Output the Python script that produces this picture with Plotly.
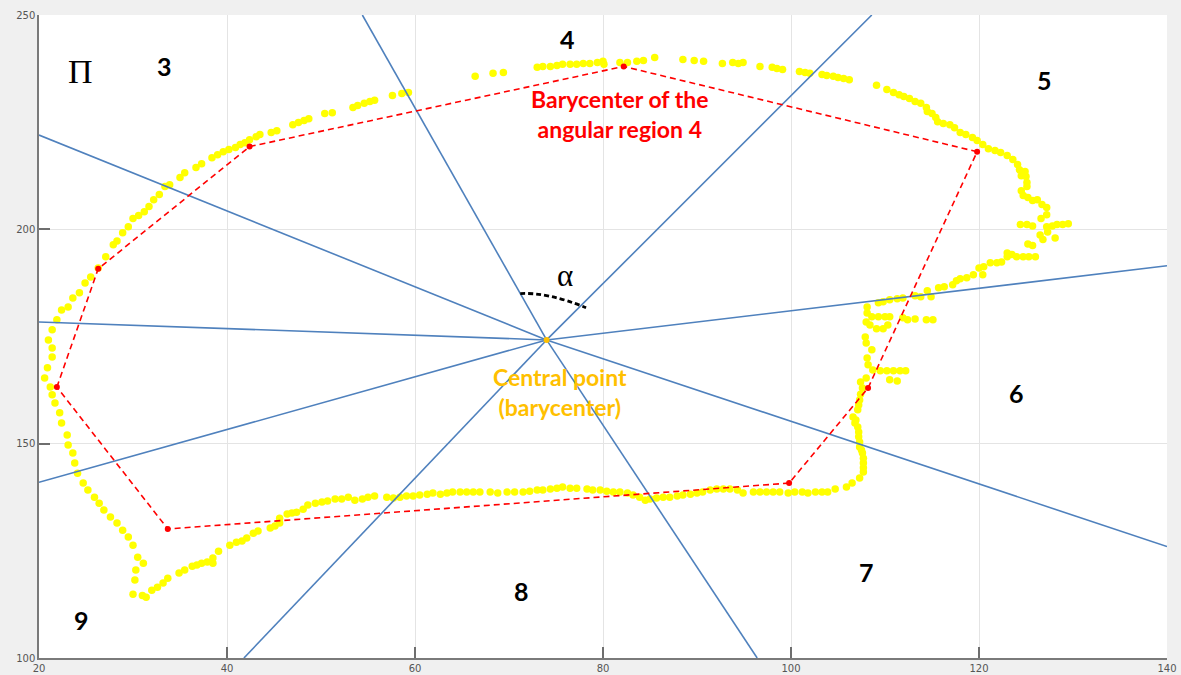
import plotly.graph_objects as go

# ---------------- data ----------------
# yellow trajectory, split into segments
left_x = [31.4, 31.0, 30.0, 30.2, 30.3, 31.1, 30.5, 30.0, 29.5, 28.9, 28.3, 27.6, 26.9, 26.4, 25.9,
          25.2, 24.7, 24.1, 23.8, 23.6, 23.1, 23.0, 22.4, 22.2, 21.7, 21.4, 21.2, 20.6, 20.9, 21.4,
          21.4, 21.0, 21.4, 21.9, 22.4]
left_y = [114.2, 114.6, 114.9, 118.2, 120.5, 122.1, 123.5, 126.3, 128.2, 129.8, 131.5, 132.9, 134.5, 136.1, 137.5,
          139.2, 140.8, 143.1, 145.5, 147.8, 149.7, 152.0, 154.8, 157.2, 159.5, 161.4, 163.2, 165.3, 167.7, 170.2,
          172.3, 174.2, 176.6, 178.9, 181.2]

upleft_x = [23.1, 23.6, 24.3, 24.9, 25.5, 26.3, 27.1, 27.9, 28.3, 28.9, 29.5, 30.0, 30.6, 31.2, 31.7,
            32.2, 32.8, 33.4, 33.9, 35.0, 35.5, 36.7, 37.3, 38.4, 39.0, 39.6, 40.2, 40.9, 41.4, 41.9,
            42.4, 43.1, 43.5, 44.7, 45.3, 47.0, 47.6, 48.2, 48.7, 50.4, 51.2, 53.4, 53.9, 54.6, 55.2,
            55.7, 57.6, 58.6, 59.3]
upleft_y = [181.9, 184.0, 185.2, 187.5, 188.9, 191.0, 193.6, 196.4, 197.3, 199.2, 200.6, 202.5, 203.2, 204.1, 205.3,
            206.9, 208.1, 210.0, 210.4, 212.1, 213.2, 214.4, 215.3, 216.7, 217.4, 218.1, 218.6, 219.1, 219.8, 220.2,
            220.9, 221.6, 222.1, 222.6, 223.0, 224.4, 224.9, 225.4, 225.8, 227.0, 227.2, 228.4, 228.9, 229.4, 229.8,
            230.1, 231.2, 231.7, 231.9]

top_x = [66.4, 68.3, 69.4, 73.0, 73.6, 74.4, 75.1, 75.7, 76.5, 77.2, 77.9, 78.6, 79.4, 80.0, 80.1,
         81.8, 82.6, 83.6, 84.3, 85.5, 88.5, 89.7, 90.7, 92.7, 93.8, 94.4, 94.9, 96.7, 98.0, 98.5,
         99.1, 100.9, 101.5, 102.0, 103.3, 103.8, 104.5, 105.0, 105.6, 106.2]
top_y = [235.7, 236.4, 236.6, 237.8, 238.0, 238.0, 238.2, 238.5, 238.5, 238.5, 238.7, 238.7, 238.9, 239.2, 238.5,
         238.9, 238.9, 239.2, 239.4, 240.1, 239.6, 239.4, 239.2, 238.7, 238.9, 238.7, 238.9, 238.0, 237.8, 237.5,
         237.3, 236.8, 236.6, 236.4, 236.1, 235.9, 235.7, 235.4, 235.2, 234.9]

upright_x = [109.1, 110.2, 110.9, 111.5, 112.0, 112.6, 113.2, 113.8, 114.4, 114.5, 115.0, 115.4, 115.6, 116.2, 116.9,
             117.4, 118.0, 118.6, 119.3, 119.8, 120.4, 121.0, 121.7, 122.3, 123.0, 123.6, 124.1, 124.3, 124.9, 124.5,
             125.0, 125.1, 125.1, 124.5, 124.7, 125.2, 125.7, 126.2, 126.7, 127.2, 127.2, 126.6, 127.2, 127.3, 126.5,
             126.8, 128.1]
upright_y = [233.6, 232.6, 231.9, 231.4, 231.0, 230.5, 229.8, 229.4, 228.4, 227.5, 227.0, 226.1, 225.1, 224.7, 224.4,
             223.7, 222.6, 222.1, 221.4, 220.7, 219.8, 218.8, 218.4, 217.9, 217.2, 216.3, 215.1, 213.9, 213.5, 212.5,
             212.3, 210.9, 210.0, 209.0, 207.9, 207.4, 206.7, 206.9, 205.8, 205.1, 203.4, 202.5, 200.6, 199.4, 198.7,
             197.6, 198.0]

rightmid_x = [124.4, 125.1, 125.7, 127.8, 128.3, 128.9, 129.5, 125.2, 125.7, 123.0, 123.5, 124.0, 124.7, 125.3, 126.0,
              123.0, 122.4, 121.9, 121.2, 120.5, 120.0, 120.4, 119.4, 118.7, 118.0, 117.6, 117.2, 116.3, 115.7, 114.5,
              114.9, 113.8, 113.2, 111.9, 111.3, 110.5, 109.8, 109.3, 108.1, 108.1]
rightmid_y = [201.1, 201.1, 200.8, 200.8, 201.1, 201.1, 201.3, 196.6, 196.2, 194.5, 194.1, 193.6, 193.6, 193.6, 193.6,
              193.6, 192.4, 192.2, 192.2, 191.3, 191.0, 189.4, 189.4, 188.7, 188.5, 188.0, 187.1, 186.6, 186.4, 185.7,
              184.3, 184.3, 184.5, 184.0, 183.8, 183.6, 183.1, 182.9, 181.9, 180.5]

rightdown_x = [108.6, 109.3, 110.0, 110.5, 111.9, 112.4, 113.2, 114.4, 115.1, 108.0, 108.4, 109.1, 109.8, 110.3, 107.9,
               108.0, 108.6, 108.1, 108.2, 108.7, 109.5, 110.2, 110.9, 111.6, 112.2, 110.5, 111.3, 108.0, 107.4, 107.6,
               107.3, 107.1, 106.6, 106.8, 107.1, 107.2, 107.3, 107.6, 107.7, 107.7, 107.3, 106.5, 105.9, 104.7,
               107.4, 107.2, 106.9, 107.2, 107.3, 107.5, 107.7, 107.7]
rightdown_y = [179.6, 179.6, 179.6, 179.6, 179.4, 178.9, 179.1, 178.9, 178.9, 178.4, 177.7, 176.8, 176.8, 177.7, 174.9,
               173.5, 171.9, 170.0, 168.4, 167.2, 167.0, 167.0, 167.0, 167.0, 167.0, 164.9, 164.6, 165.3, 164.4, 163.0,
               160.2, 157.9, 156.2, 154.8, 153.9, 151.6, 149.2, 147.8, 145.5, 143.4, 142.0, 140.8, 139.9, 139.4,
               161.5, 159.0, 155.5, 152.7, 150.4, 148.5, 146.6, 144.4]

bottom_x = [103.9, 103.3, 102.6, 101.8, 101.2, 100.4, 99.7, 98.8, 98.1, 97.4, 96.7, 96.0, 94.9, 94.3, 93.5,
            92.8, 92.1, 91.4, 90.6, 90.0, 89.3, 88.5, 87.9, 87.1, 86.4, 85.7, 85.0, 84.5, 83.9, 83.2,
            82.6, 81.8, 81.1, 80.4, 79.7, 78.9, 78.3, 77.2, 76.5, 75.7, 75.1, 74.4, 73.6, 73.0, 72.2,
            71.5, 70.6, 69.8, 68.8, 68.0, 66.9, 66.2, 65.5, 64.8, 64.0, 63.4, 62.7, 61.9, 61.3, 60.5,
            59.8, 59.1, 58.4, 57.7, 57.0, 55.7, 55.0, 54.4, 53.6, 52.9, 52.2, 51.5, 50.7, 50.1, 49.4,
            48.6, 48.1, 47.4, 46.9, 46.4, 45.6, 45.6, 45.1, 44.6, 43.3, 42.8, 42.1, 41.6, 41.0, 40.3,
            39.1, 38.5, 38.5, 37.9, 37.3, 36.8, 36.3, 35.5, 34.9, 33.7, 33.2, 32.6, 32.0]
bottom_y = [138.7, 138.7, 138.7, 138.5, 138.7, 138.7, 138.5, 138.7, 138.7, 138.7, 138.7, 138.7, 138.5, 139.2, 139.4,
            139.4, 139.4, 139.2, 138.7, 138.5, 138.2, 138.0, 137.8, 137.5, 137.5, 137.3, 137.1, 136.8, 137.5, 138.0,
            138.5, 138.7, 138.7, 138.9, 139.2, 139.2, 139.4, 139.6, 139.6, 139.9, 139.6, 139.4, 139.2, 139.2, 138.9,
            138.7, 138.7, 138.7, 138.5, 138.7, 138.7, 138.7, 138.7, 138.7, 138.7, 138.5, 138.2, 138.5, 138.2, 138.0,
            137.8, 137.8, 137.5, 137.3, 137.5, 137.8, 137.5, 137.1, 136.8, 137.5, 137.1, 137.1, 136.6, 136.4, 136.1,
            135.7, 134.7, 134.0, 133.8, 133.6, 132.6, 131.5, 130.8, 130.3, 129.6, 129.1, 128.0, 127.3, 127.0, 126.3,
            124.9, 123.3, 122.1, 122.4, 122.1, 121.7, 121.4, 120.5, 119.8, 118.6, 117.5, 116.5, 115.8]

# barycenters of the angular regions 1,2,3,4,5,6,7,9
bary_x = [21.9, 26.3, 42.4, 82.2, 119.8, 108.2, 99.8, 33.7]
bary_y = [163.2, 190.8, 219.3, 238.0, 218.1, 163.0, 140.8, 130.1]

# central point and ends of the 9 dividing rays
center_x = 74.0
center_y = 174.2
ray_end_x = [20.0, 54.4, 108.6, 140.0, 140.0, 96.4, 41.8, 20.0, 20.0]
ray_end_y = [222.0, 250.0, 250.0, 191.5, 126.0, 100.0, 100.0, 141.0, 178.4]

# region numbers
region_labels = ["1", "2", "3", "4", "5", "6", "7", "8", "9"]
region_label_x = [18.0, 18.0, 33.4, 76.2, 127.0, 124.0, 108.0, 71.3, 24.5]
region_label_y = [161.3, 207.4, 238.0, 244.5, 234.9, 161.8, 120.0, 115.6, 108.8]

x_ticks = [20, 40, 60, 80, 100, 120, 140]
y_ticks = [100, 150, 200, 250]

# ---------------- figure ----------------
traj_x = left_x + upleft_x + top_x + upright_x + rightmid_x + rightdown_x + bottom_x
traj_y = left_y + upleft_y + top_y + upright_y + rightmid_y + rightdown_y + bottom_y

fig = go.Figure()

fig.add_trace(go.Scatter(
    x=traj_x, y=traj_y, mode="markers",
    marker=dict(color="#ffff00", size=7.5, line=dict(width=0)),
    hoverinfo="skip"))

BLUE = "#4f81bd"
for ex, ey in zip(ray_end_x, ray_end_y):
    fig.add_trace(go.Scatter(
        x=[center_x, ex], y=[center_y, ey], mode="lines",
        line=dict(color=BLUE, width=1.6), hoverinfo="skip"))

fig.add_trace(go.Scatter(
    x=bary_x + bary_x[:1], y=bary_y + bary_y[:1], mode="lines",
    line=dict(color="#ff0000", width=1.6, dash="6px,4px"), hoverinfo="skip"))
fig.add_trace(go.Scatter(
    x=bary_x, y=bary_y, mode="markers",
    marker=dict(color="#ff0000", size=6), hoverinfo="skip"))

fig.add_trace(go.Scatter(
    x=[center_x], y=[center_y], mode="markers",
    marker=dict(color="#ffc000", size=6), hoverinfo="skip"))

# alpha arc (decoration)
fig.add_shape(type="path", xref="x", yref="y",
              path="M 71.2,185.0 Q 74.1,185.4 78.2,181.7",
              line=dict(color="black", width=2.8, dash="5px,3px"))

label_font = dict(family="Lato, 'Open Sans', sans-serif", size=25, color="black")
for t, lx, ly in zip(region_labels, region_label_x, region_label_y):
    fig.add_annotation(x=lx, y=ly, text="<b>%s</b>" % t, showarrow=False,
                       xanchor="center", yanchor="middle", font=label_font)

fig.add_annotation(x=24.4, y=236.8, text="\u03a0", showarrow=False,
                   xanchor="center", yanchor="middle",
                   font=dict(family="Liberation Serif, serif", size=34, color="black"))
fig.add_annotation(x=76.0, y=189.2, text="\u03b1", showarrow=False,
                   xanchor="center", yanchor="middle",
                   font=dict(family="Liberation Serif, serif", size=31, color="black"))
fig.add_annotation(x=81.8, y=227.0, text="<b>Barycenter of the<br>angular region 4</b>",
                   showarrow=False, xanchor="center", yanchor="middle", align="center",
                   font=dict(family="Lato, 'Open Sans', sans-serif", size=23, color="#ff0000"))
fig.add_annotation(x=75.4, y=162.1, text="<b>Central point<br>(barycenter)</b>",
                   showarrow=False, xanchor="center", yanchor="middle", align="center",
                   font=dict(family="Lato, 'Open Sans', sans-serif", size=23, color="#ffc000"))

axis_common = dict(
    ticks="inside", ticklen=11, tickwidth=1.5, tickcolor="#6e6e6e",
    showline=True, linecolor="#7a7a7a", linewidth=1.5, mirror=False,
    showgrid=True, gridcolor="#e4e4e4", gridwidth=1, zeroline=False,
    tickfont=dict(family="DejaVu Sans, sans-serif", size=10, color="#555555"),
    automargin=False, fixedrange=True)

fig.update_xaxes(range=[20, 140], tickvals=x_ticks, **axis_common)
fig.update_yaxes(range=[100, 250], tickvals=y_ticks, **axis_common)

fig.update_layout(
    width=1181, height=675,
    margin=dict(l=39, r=14, t=15, b=17),
    paper_bgcolor="#f0f0f0", plot_bgcolor="white",
    showlegend=False)

fig.write_html(
    "out.html",
    config={"displayModeBar": False},
    post_script="document.body.style.margin='0px';document.body.style.overflow='hidden';")
